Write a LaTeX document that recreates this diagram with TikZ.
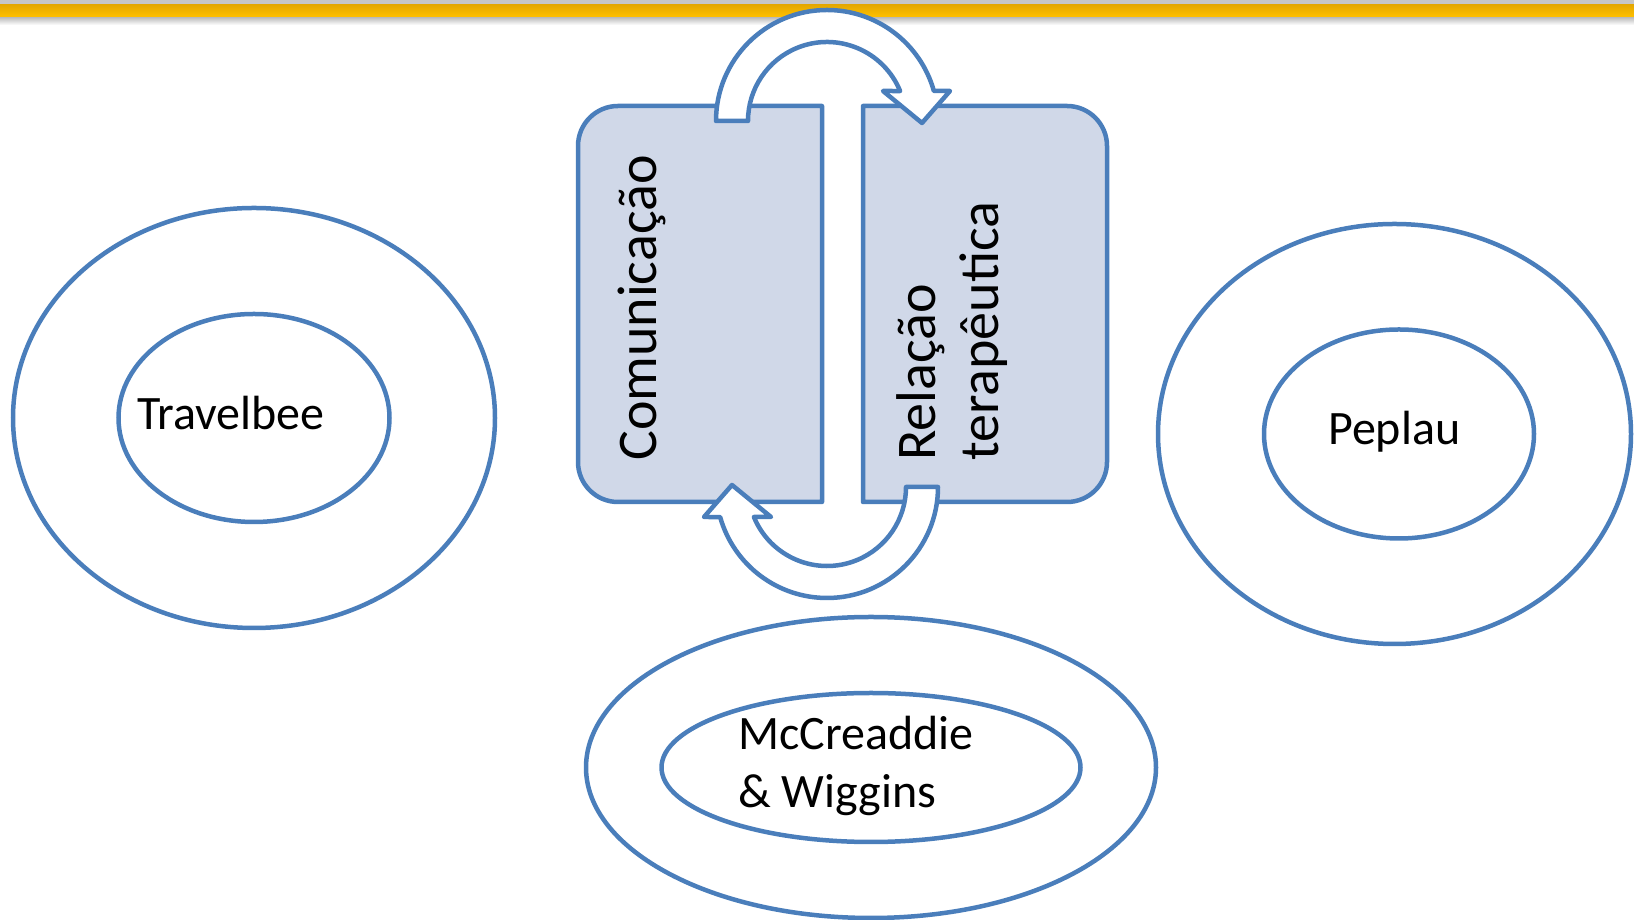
\documentclass[tikz,border=0pt]{standalone}
\usepackage{fontspec}
\setmainfont{Carlito}

\definecolor{azulborda}{RGB}{74,126,187}
\definecolor{azulcaixa}{RGB}{208,216,232}
\definecolor{ouro}{RGB}{255,192,0}
\definecolor{ouroescuro}{RGB}{229,168,0}

\tikzset{
  anel/.style={draw=azulborda, line width=4.5pt},
  caixa/.style={draw=azulborda, fill=azulcaixa, line width=4.5pt, line join=round},
  seta/.style={draw=azulborda, fill=white, line width=4.5pt, line join=round},
  rotulo/.style={font=\fontsize{48}{58}\selectfont, inner sep=0pt, align=left},
  vertical/.style={font=\fontsize{56}{63}\selectfont, inner sep=0pt, rotate=90, align=left},
  setacurva/.pic={
    \draw[seta] (180:111) arc[start angle=180, end angle=15.7, radius=111]
      -- (123,30) -- (95,-2) -- (56,30) -- (22.3:79)
      arc[start angle=22.3, end angle=180, radius=79] -- cycle;
  }
}

\begin{document}
\begin{tikzpicture}[x=1pt,y=1pt]
\useasboundingbox (0,0) rectangle (1634,920);
\clip (0,0) rectangle (1634,920);

% Faixa superior
\fill[gray!45] (0,915) rectangle (1634,920);
\shade[top color=gray!55, bottom color=white] (0,895) rectangle (1634,903);
\shade[top color=ouroescuro, bottom color=ouro] (0,903) rectangle (1634,915);

% Elipses
\draw[anel] (254,502) ellipse [x radius=241, y radius=210];
\draw[anel] (254,502) ellipse [x radius=135.5, y radius=104];
\draw[anel] (1394.5,486) ellipse [x radius=236.5, y radius=210];
\draw[anel] (1399,486) ellipse [x radius=135, y radius=104.5];
\draw[anel] (871,152.5) ellipse [x radius=285, y radius=150.5];
\draw[anel] (871,152.5) ellipse [x radius=209.5, y radius=74.5];

% Caixas
\draw[caixa] (822,814) -- (618,814) arc[start angle=90, end angle=180, radius=40]
  -- (578,458) arc[start angle=180, end angle=270, radius=40] -- (822,418) -- cycle;
\draw[caixa] (863,814) -- (1067,814) arc[start angle=90, end angle=0, radius=40]
  -- (1107,458) arc[start angle=0, end angle=-90, radius=40] -- (863,418) -- cycle;

% Setas curvas
\pic at (827,799) {setacurva};
\pic[rotate=180] at (827,433) {setacurva};

% Textos
\node[vertical, anchor=base west] (comunicacao) at (656,459) {Comunicação};
\node[vertical, anchor=base west] (relacao) at (998,459) {Relação\\terapêutica};
\node[rotulo, anchor=base west] (travelbee) at (137,490) {Travelbee};
\node[rotulo, anchor=base west] (peplau) at (1328,475) {Peplau};
\node[rotulo, anchor=base west] (mccreaddie) at (738,112) {McCreaddie\\\& Wiggins};
\end{tikzpicture}
\end{document}
